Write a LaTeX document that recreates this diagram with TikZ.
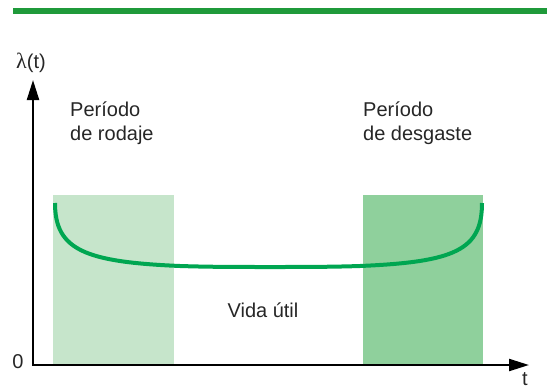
\documentclass[tikz,border=0pt]{standalone}
\usepackage{fontspec}
\setmainfont{Liberation Sans}
\newfontfamily\symfont{Liberation Serif}
\usetikzlibrary{arrows.meta}
\definecolor{barg}{HTML}{1F9A3A}
\definecolor{curveg}{HTML}{00A651}
\definecolor{lightg}{HTML}{C6E5CB}
\definecolor{darkg}{HTML}{8FD09C}
\tikzset{
  lbl/.style={inner sep=0pt, font=\fontsize{20}{24.5}\selectfont, text=black!85},
  axisline/.style={line width=2.2pt, -{Triangle[length=20pt,width=12pt]}},
}
\begin{document}
\begin{tikzpicture}[x=1pt,y=-1pt]
\useasboundingbox (0,0) rectangle (552,389);
% top bar
\fill[barg] (13,8) rectangle (547,13.5);
% shaded periods
\fill[lightg] (53,195) rectangle (174,365);
\fill[darkg] (363,195) rectangle (483,365);
% axes
\coordinate (O) at (33,365);
\coordinate (ytop) at (33,80);
\coordinate (xend) at (529,365);
\draw[axisline] (O) -- (ytop);
\draw[axisline] (32,365) -- (xend);
% bathtub curve
\coordinate (c0) at (55,203);
\coordinate (c1) at (180,266);
\coordinate (c2) at (270,267);
\coordinate (c3) at (360,266);
\coordinate (c4) at (482,203);
\draw[curveg, line width=4pt] (c0) .. controls (55,250) and (85,262) .. (c1)
  .. controls (210,267) and (240,267) .. (c2)
  .. controls (300,267) and (330,267) .. (c3)
  .. controls (455,262) and (482,250) .. (c4);
% labels
\node[lbl, anchor=base west] (lam) at (16,68) {{\symfont\fontsize{22}{24}\selectfont λ}(t)};
\node[lbl, anchor=base] (zero) at (18,368) {0};
\node[lbl, anchor=base] (tlab) at (525,385) {t};
\node[lbl, anchor=base west, align=left] (rod) at (70,140.5) {Período\\de rodaje};
\node[lbl, anchor=base west, align=left] (des) at (363,140.5) {Período\\de desgaste};
\node[lbl, anchor=base] (vida) at (263,317) {Vida útil};
\end{tikzpicture}
\end{document}
